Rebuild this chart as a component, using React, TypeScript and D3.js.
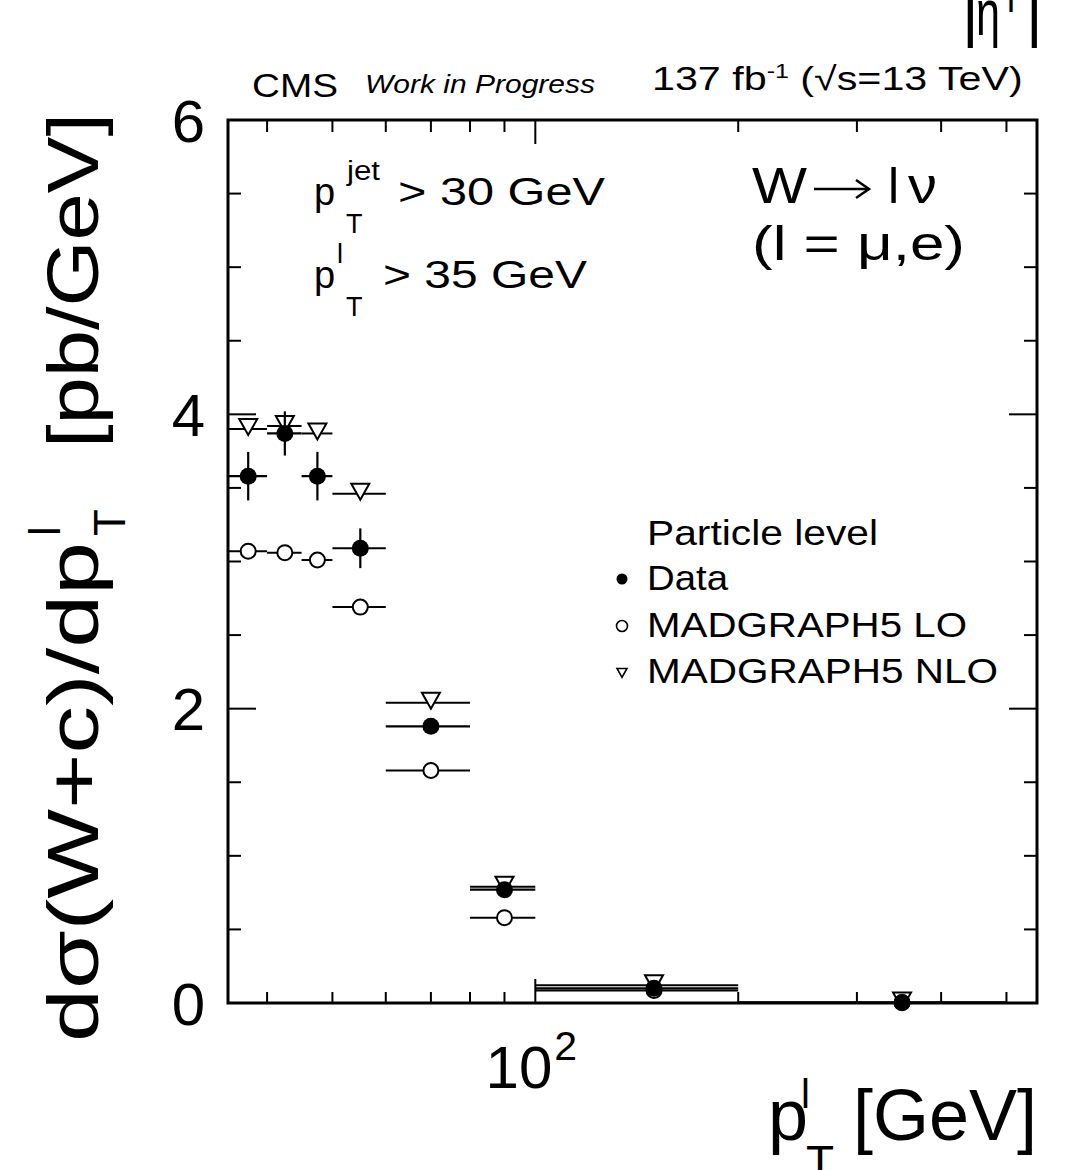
import React from 'react';
import * as d3 from 'd3';

// ---- data ----
const binLo = [35, 40, 45, 50, 60, 80, 100, 200];
const binHi = [40, 45, 50, 60, 80, 100, 200, 500];
const binCenter = [37.5, 42.5, 47.5, 55, 70, 90, 150, 350];
const dataVal = [3.58, 3.87, 3.58, 3.09, 1.88, 0.77, 0.1, 0.003];
const dataErr = [0.165, 0.15, 0.165, 0.135, 0.04, 0.03, 0.02, 0.005];
const loVal = [3.07, 3.06, 3.01, 2.69, 1.58, 0.58, 0.085, 0.002];
const nloVal = [3.9, 3.92, 3.87, 3.46, 2.04, 0.79, 0.12, 0.004];
const yMajor = [0, 2, 4, 6];
const yMinor = [0.5, 1, 1.5, 2.5, 3, 3.5, 4.5, 5, 5.5];
const xMajor = [100];
const xMinor = [40, 50, 60, 70, 80, 90, 200, 300, 400, 500];
const legendItems = ['Data', 'MADGRAPH5 LO', 'MADGRAPH5 NLO'];

const W = 1082;
const H = 1170;
const L = 228, R = 1037, T = 120, B = 1003;
const FONT = 'Liberation Sans, Arial, Helvetica, sans-serif';

const x = d3.scaleLog().domain([35, 555]).range([L, R]);
const y = d3.scaleLinear().domain([0, 6]).range([B, T]);

const tri = (cx: number, cy: number, s = 1) =>
  `M${cx - 9 * s},${cy - 10 * s}L${cx + 9 * s},${cy - 10 * s}L${cx},${cy + 6 * s}Z`;

function Txt(props: any) {
  const { x: tx, y: ty, size, len, anchor, italic, children } = props;
  return (
    <text
      x={tx}
      y={ty}
      fontSize={size}
      fontFamily={FONT}
      fontStyle={italic ? 'italic' : 'normal'}
      textAnchor={anchor || 'start'}
      textLength={len}
      lengthAdjust={len ? 'spacingAndGlyphs' : undefined}
      fill="#000"
    >
      {children}
    </text>
  );
}

export default function App() {
  const idx = d3.range(binCenter.length);
  return (
    <div style={{ position: 'absolute', left: 0, top: 0 }}>
      <svg width={W} height={H} style={{ display: 'block', background: '#fff' }}>
        <rect x={0} y={0} width={W} height={H} fill="#fff" />

        {/* frame */}
        <rect x={L} y={T} width={R - L} height={B - T} fill="none" stroke="#000" strokeWidth={3} />

        {/* ticks */}
        <g stroke="#000" strokeWidth={2}>
          {yMajor.map((v) => (
            <g key={'ym' + v}>
              <line x1={L} x2={L + 28} y1={y(v)} y2={y(v)} />
              <line x1={R} x2={R - 28} y1={y(v)} y2={y(v)} />
            </g>
          ))}
          {yMinor.map((v) => (
            <g key={'yn' + v}>
              <line x1={L} x2={L + 13} y1={y(v)} y2={y(v)} />
              <line x1={R} x2={R - 13} y1={y(v)} y2={y(v)} />
            </g>
          ))}
          {xMajor.map((v) => (
            <g key={'xm' + v}>
              <line x1={x(v)} x2={x(v)} y1={B} y2={B - 24} />
              <line x1={x(v)} x2={x(v)} y1={T} y2={T + 24} />
            </g>
          ))}
          {xMinor.map((v) => (
            <g key={'xn' + v}>
              <line x1={x(v)} x2={x(v)} y1={B} y2={B - 11} />
              <line x1={x(v)} x2={x(v)} y1={T} y2={T + 12} />
            </g>
          ))}
        </g>

        {/* NLO */}
        <g>
          {idx.map((i) => (
            <line key={'nb' + i} x1={x(binLo[i])} x2={x(binHi[i])} y1={y(nloVal[i])} y2={y(nloVal[i])} stroke="#000" strokeWidth={2} />
          ))}
          {idx.map((i) => (
            <path key={'nm' + i} d={tri(x(binCenter[i]), y(nloVal[i]))} fill="#fff" stroke="#000" strokeWidth={2} />
          ))}
        </g>
        {/* LO */}
        <g>
          {idx.map((i) => (
            <line key={'lb' + i} x1={x(binLo[i])} x2={x(binHi[i])} y1={y(loVal[i])} y2={y(loVal[i])} stroke="#000" strokeWidth={2} />
          ))}
          {idx.map((i) => (
            <circle key={'lm' + i} cx={x(binCenter[i])} cy={y(loVal[i])} r={7.5} fill="#fff" stroke="#000" strokeWidth={2} />
          ))}
        </g>
        {/* Data */}
        <g>
          {idx.map((i) => (
            <g key={'db' + i} stroke="#000" strokeWidth={2.2}>
              <line x1={x(binLo[i])} x2={x(binHi[i])} y1={y(dataVal[i])} y2={y(dataVal[i])} />
              <line x1={x(binCenter[i])} x2={x(binCenter[i])} y1={y(dataVal[i] - dataErr[i])} y2={y(dataVal[i] + dataErr[i])} />
            </g>
          ))}
          {idx.map((i) => (
            <circle key={'dm' + i} cx={x(binCenter[i])} cy={y(dataVal[i])} r={8.5} fill="#000" />
          ))}
        </g>

        {/* y tick labels */}
        {yMajor.map((v) => (
          <Txt key={'yl' + v} x={205} y={y(v) + 21.5} size={60} anchor="end">
            {String(v)}
          </Txt>
        ))}
        {/* x tick label 10^2 */}
        {xMajor.map((v) => (
          <g key={'xl' + v}>
            <Txt x={x(v) + 17} y={1088} size={60} anchor="end">10</Txt>
            <Txt x={x(v) + 19} y={1060} size={41}>2</Txt>
          </g>
        ))}

        {/* x title */}
        <Txt x={768} y={1140} size={72}>p</Txt>
        <Txt x={801} y={1108} size={40}>l</Txt>
        <Txt x={806} y={1178} size={46}>T</Txt>
        <Txt x={1037} y={1140} size={72} anchor="end">[GeV]</Txt>

        {/* y title */}
        <g transform="translate(98,1042) rotate(-90)">
          <Txt x={0} y={0} size={72} len={500}>dσ(W+c)/dp</Txt>
          <Txt x={506} y={-38} size={44}>l</Txt>
          <Txt x={506} y={27} size={44}>T</Txt>
          <Txt x={929} y={0} size={72} len={335} anchor="end">[pb/GeV]</Txt>
        </g>

        {/* header */}
        <Txt x={252} y={97} size={33} len={86}>CMS</Txt>
        <Txt x={365} y={93} size={26.5} len={230} italic>Work in Progress</Txt>
        <g transform="translate(652,90) scale(1.25,1)">
          <text x={0} y={0} fontSize={33} fontFamily={FONT} fill="#000">
            137 fb
            <tspan dy={-12} fontSize={20}>-1</tspan>
            <tspan dy={12}> (√s=13 TeV)</tspan>
          </text>
        </g>

        {/* top-right cut label |eta^l| */}
        <Txt x={962} y={35} size={64}>|</Txt>
        <Txt x={976} y={35} size={64} len={24}>η</Txt>
        <Txt x={1007} y={12} size={36}>l</Txt>
        <Txt x={1026} y={35} size={64}>|</Txt>

        {/* cuts */}
        <Txt x={314} y={205} size={38}>p</Txt>
        <Txt x={347} y={180} size={27} len={33}>jet</Txt>
        <Txt x={346} y={233} size={27}>T</Txt>
        <Txt x={398} y={205} size={38} len={207}>&gt; 30 GeV</Txt>
        <Txt x={314} y={288} size={38}>p</Txt>
        <Txt x={337} y={263} size={27}>l</Txt>
        <Txt x={346} y={316} size={27}>T</Txt>
        <Txt x={383} y={288} size={38} len={204}>&gt; 35 GeV</Txt>

        {/* process */}
        <Txt x={752} y={203} size={50} len={55}>W</Txt>
        <g stroke="#000" strokeWidth={2.5} fill="none">
          <line x1={814} x2={869} y1={189} y2={189} />
          <path d="M856,180L869,189L856,198" />
        </g>
        <Txt x={888} y={203} size={50}>l</Txt>
        <Txt x={908} y={203} size={50} len={29}>ν</Txt>
        <Txt x={752} y={260} size={49} len={213}>(l = μ,e)</Txt>

        {/* legend */}
        <Txt x={647} y={545} size={35} len={231}>Particle level</Txt>
        <circle cx={622} cy={579} r={5.5} fill="#000" />
        <Txt x={647} y={590} size={35} len={81}>{legendItems[0]}</Txt>
        <circle cx={622} cy={626} r={5.5} fill="#fff" stroke="#000" strokeWidth={1.6} />
        <Txt x={647} y={637} size={35} len={320}>{legendItems[1]}</Txt>
        <path d={tri(622, 674, 0.55)} fill="#fff" stroke="#000" strokeWidth={1.6} />
        <Txt x={647} y={683} size={35} len={351}>{legendItems[2]}</Txt>
      </svg>
    </div>
  );
}
